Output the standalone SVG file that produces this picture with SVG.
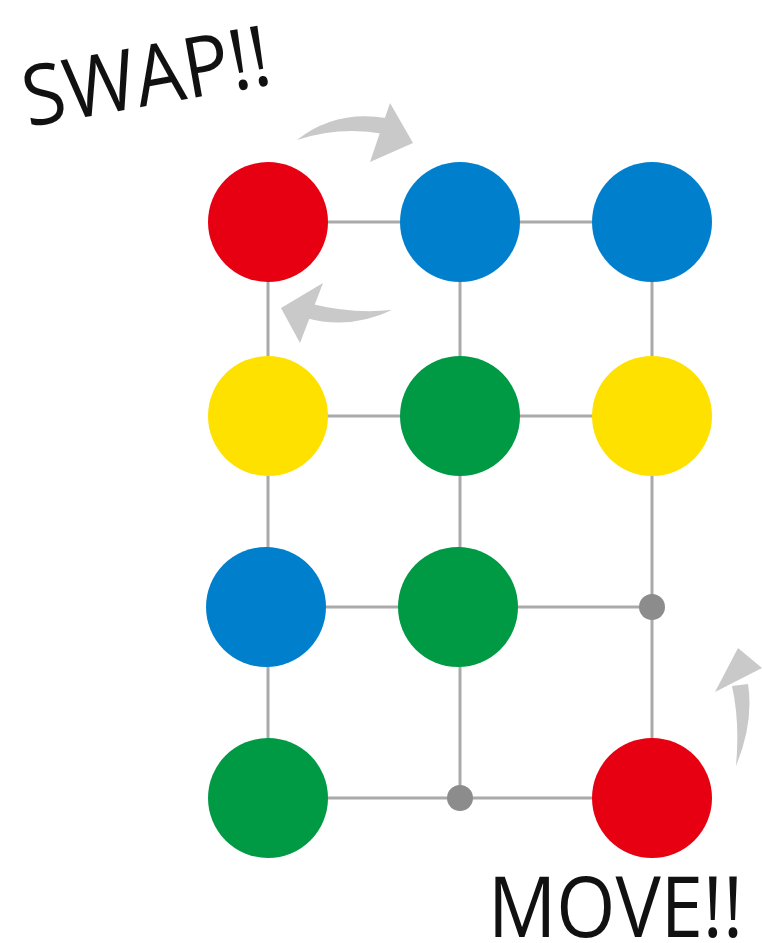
<svg xmlns="http://www.w3.org/2000/svg" width="762" height="943" viewBox="0 0 762 943">
<style>
.edge{stroke:#aaaaaa;stroke-width:3;fill:none}
.arrow{fill:#c9c9c9}
.lbl{font-family:"Open Sans","Liberation Sans",sans-serif;fill:#111111}
.red{fill:#e60012}.blue{fill:#0080cc}.yellow{fill:#ffe100}.green{fill:#009944}.dot{fill:#8c8c8c}
</style>
<rect width="762" height="943" fill="#ffffff"/>
<g id="connectors">
<line class="edge" x1="268" y1="222" x2="652" y2="222"/>
<line class="edge" x1="268" y1="416" x2="652" y2="416"/>
<line class="edge" x1="268" y1="607" x2="652" y2="607"/>
<line class="edge" x1="268" y1="798" x2="652" y2="798"/>
<line class="edge" x1="268" y1="222" x2="268" y2="798"/>
<line class="edge" x1="460" y1="222" x2="460" y2="798"/>
<line class="edge" x1="652" y1="222" x2="652" y2="798"/>
</g>
<g id="arrows">
<path class="arrow" d="M297,140 Q335,110 386,118 L384,134 Q340,126 297,140 Z"/>
<polygon class="arrow" points="390,103 413,143 370,162"/>
<path class="arrow" d="M392,310 Q350,330 306,318 L312,304 Q352,314 392,310 Z"/>
<polygon class="arrow" points="323,283 281,308 300,343"/>
<path class="arrow" d="M736,766 Q754,722 748,684 L732,686 Q740,722 736,766 Z"/>
<polygon class="arrow" points="738,648 715,692 762,668"/>
</g>
<g id="n11"><circle class="red" cx="268" cy="222" r="60"/></g>
<g id="n12"><circle class="blue" cx="460" cy="222" r="60"/></g>
<g id="n13"><circle class="blue" cx="652" cy="222" r="60"/></g>
<g id="n21"><circle class="yellow" cx="268" cy="416" r="60"/></g>
<g id="n22"><circle class="green" cx="460" cy="416" r="60"/></g>
<g id="n23"><circle class="yellow" cx="652" cy="416" r="60"/></g>
<g id="n31"><circle class="blue" cx="266" cy="607" r="60"/></g>
<g id="n32"><circle class="green" cx="458" cy="607" r="60"/></g>
<g id="n33"><circle class="dot" cx="652" cy="607" r="13"/></g>
<g id="n41"><circle class="green" cx="268" cy="798" r="60"/></g>
<g id="n42"><circle class="dot" cx="460" cy="798" r="13"/></g>
<g id="n43"><circle class="red" cx="652" cy="798" r="60"/></g>
<g id="labels">
<text class="lbl" x="28" y="127" font-size="84" textLength="250" lengthAdjust="spacingAndGlyphs" transform="rotate(-10 28 127)">SWAP!!</text>
<text class="lbl" x="488" y="937" font-size="84" textLength="255" lengthAdjust="spacingAndGlyphs">MOVE!!</text>
</g>
</svg>
